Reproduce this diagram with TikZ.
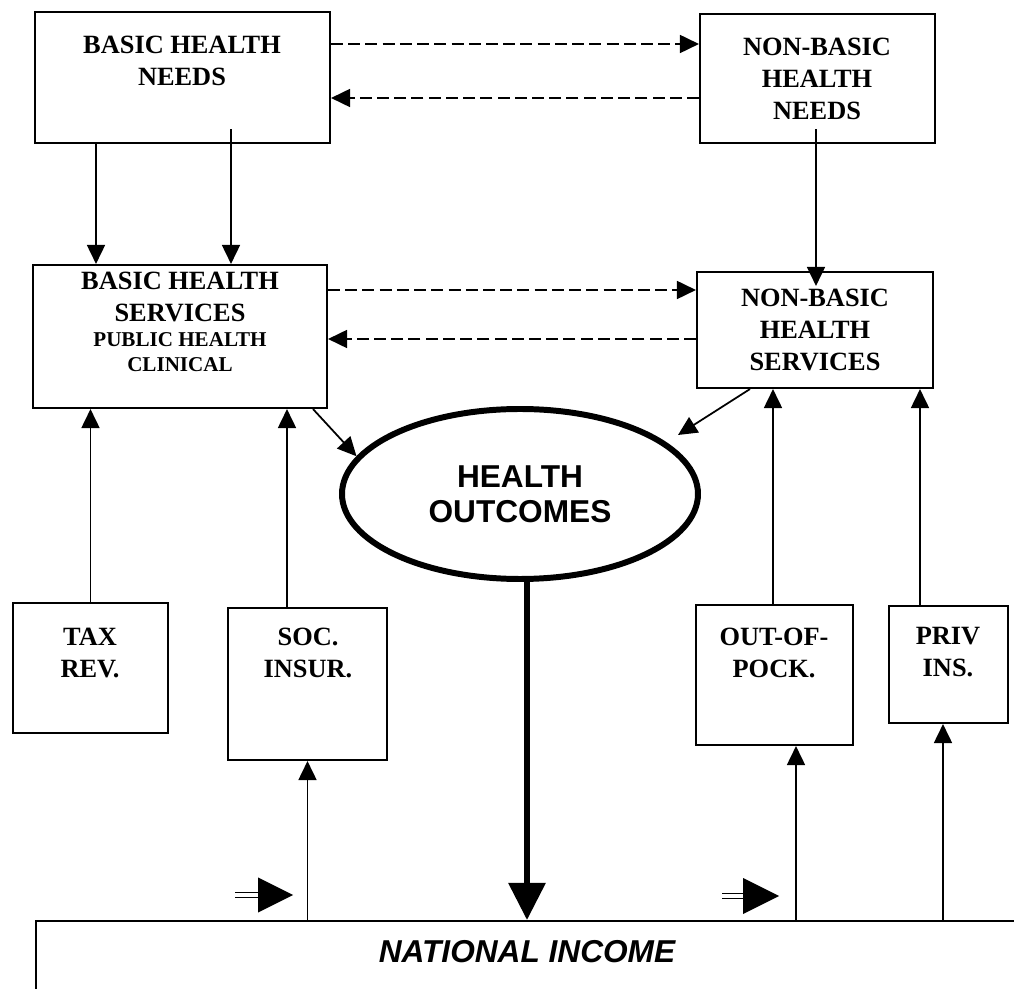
\documentclass[tikz,border=0pt]{standalone}
\usepackage{fontspec}
\setmainfont{Liberation Serif}
\setsansfont{Liberation Sans}
\usetikzlibrary{arrows.meta, positioning, shapes.geometric}

\begin{document}
\begin{tikzpicture}[x=1cm, y=1cm,
  box/.style={draw=black, line width=1.2pt, rectangle, inner sep=0pt},
  boxtxt/.style={font=\fontsize{15}{18}\selectfont\bfseries, align=center, inner sep=1pt},
  subtxt/.style={font=\fontsize{12}{14.2}\selectfont\bfseries, align=center, inner sep=1pt},
  arr/.style={line width=1pt, -{Triangle[length=0.38cm, width=0.36cm]}},
  dasharr/.style={arr, dash pattern=on 6.8pt off 3pt},
  thickarr/.style={line width=3.4pt, -{Triangle[length=0.74cm, width=0.72cm]}},
  dblshaft/.style={double, double distance=2.1pt, line width=0.8pt}]

  \useasboundingbox (0,0) rectangle (20.28,19.76);
  \clip (0,0) rectangle (20.28,19.76);

  %% Needs
  \node[box, minimum width=5.90cm, minimum height=2.62cm] (bhn) at (3.65,18.21) {};
  \node[boxtxt] (bhn-t) at (3.64,18.54) {BASIC HEALTH\\NEEDS};
  \node[box, minimum width=4.70cm, minimum height=2.58cm] (nbhn) at (16.35,18.19) {};
  \node[boxtxt] (nbhn-t) at (16.34,18.18) {NON-BASIC\\HEALTH\\NEEDS};

  %% Services
  \node[box, minimum width=5.88cm, minimum height=2.86cm] (bhs) at (3.60,13.03) {};
  \node[boxtxt] (bhs-t) at (3.60,13.82) {BASIC HEALTH\\SERVICES};
  \node[subtxt] (bhs-s) at (3.60,12.71) {PUBLIC HEALTH\\CLINICAL};
  \node[box, minimum width=4.72cm, minimum height=2.32cm] (nbhs) at (16.30,13.16) {};
  \node[boxtxt] (nbhs-t) at (16.30,13.16) {NON-BASIC\\HEALTH\\SERVICES};

  %% Outcomes
  \node[ellipse, draw, line width=3.4pt, minimum width=7.12cm, minimum height=3.40cm,
    inner sep=0pt, align=center, font=\sffamily\bfseries\fontsize{18}{20}\selectfont]
    (ho) at (10.40,9.88) {HEALTH\\OUTCOMES};
  \coordinate (ho-tip) at (13.56,11.06);

  %% Financing
  \node[box, minimum width=3.10cm, minimum height=2.60cm] (tax) at (1.81,6.40) {};
  \node[boxtxt] (tax-t) at (1.80,6.70) {TAX\\REV.};
  \node[box, minimum width=3.18cm, minimum height=3.04cm] (soc) at (6.15,6.08) {};
  \node[boxtxt] (soc-t) at (6.16,6.70) {SOC.\\INSUR.};
  \node[box, minimum width=3.14cm, minimum height=2.80cm] (oop) at (15.49,6.26) {};
  \node[boxtxt] (oop-t) at (15.48,6.70) {OUT-OF-\\POCK.};
  \node[box, minimum width=2.38cm, minimum height=2.34cm] (priv) at (18.97,6.47) {};
  \node[boxtxt] (priv-t) at (18.96,6.72) {PRIV\\INS.};

  %% National income
  \node[box, minimum width=20.3cm, minimum height=2.36cm, anchor=north west] (ni) at (0.70,1.36) {};
  \node[font=\sffamily\bfseries\itshape\fontsize{18}{20}\selectfont] (ni-t) at (10.54,0.72) {NATIONAL INCOME};

  %% Dashed links
  \draw[dasharr] (bhn.east |- 0,18.88) -- (nbhn.west |- 0,18.88);
  \draw[dasharr] (nbhn.west |- 0,17.80) -- (bhn.east |- 0,17.80);
  \draw[dasharr] (bhs.east |- 0,13.96) -- (nbhs.west |- 0,13.96);
  \draw[dasharr] (nbhs.west |- 0,12.98) -- (bhs.east |- 0,12.98);

  %% Needs to services
  \coordinate (bhn-o) at ([yshift=0.3cm]bhn.south);
  \coordinate (nbhn-o) at ([yshift=0.3cm]nbhn.south);
  \coordinate (nbhs-i) at ([yshift=-0.3cm]nbhs.north);
  \draw[arr] (1.92,0 |- bhn.south) -- (1.92,0 |- bhs.north);
  \draw[arr] (4.62,0 |- bhn-o) -- (4.62,0 |- bhs.north);
  \draw[arr] (16.32,0 |- nbhn-o) -- (16.32,0 |- nbhs-i);

  %% Services to outcomes
  \draw[arr] (6.26,0 |- bhs.south) -- (ho.167);
  \draw[arr] (15.00,0 |- nbhs.south) -- (ho-tip);
  \draw[thickarr] (10.54,0 |- ho.south) -- (10.54,0 |- ni.north);

  %% Financing to services
  \draw[arr] (tax.north) -- (tax.north |- bhs.south);
  \draw[arr] (5.74,0 |- soc.north) -- (5.74,0 |- bhs.south);
  \draw[arr] (15.46,0 |- oop.north) -- (15.46,0 |- nbhs.south);
  \draw[arr] (18.40,0 |- priv.north) -- (18.40,0 |- nbhs.south);

  %% Income to financing
  \draw[arr] (soc.south |- ni.north) -- (soc.south);
  \draw[arr] (15.92,0 |- ni.north) -- (15.92,0 |- oop.south);
  \draw[arr] (18.86,0 |- ni.north) -- (18.86,0 |- priv.south);

  %% Double arrows
  \coordinate (mk1) at (4.70,1.86);
  \coordinate (mk2) at (14.44,1.84);
  \draw[dblshaft] (mk1) -- ++(0.46,0);
  \fill ([xshift=0.46cm]mk1) ++(0,0.35) -- ++(0.70,-0.35) -- ++(-0.70,-0.35) -- cycle;
  \draw[dblshaft] (mk2) -- ++(0.42,0);
  \fill ([xshift=0.42cm]mk2) ++(0,0.36) -- ++(0.72,-0.36) -- ++(-0.72,-0.36) -- cycle;

\end{tikzpicture}
\end{document}
